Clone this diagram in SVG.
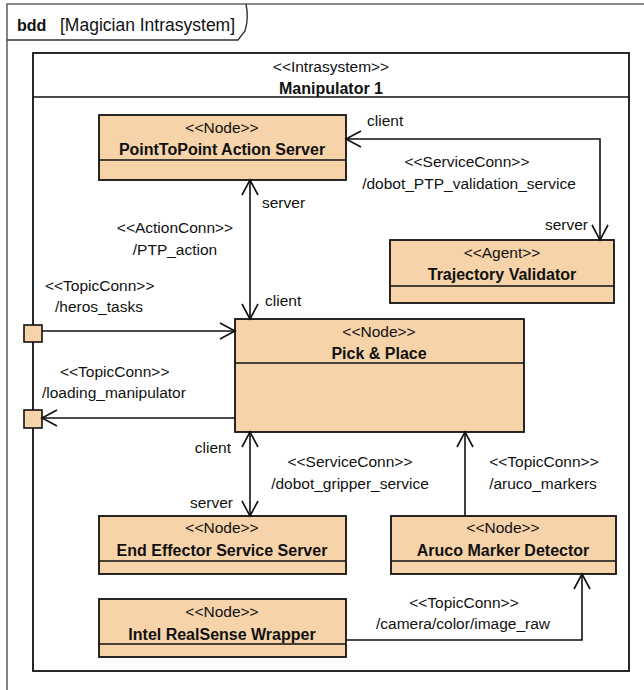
<svg xmlns="http://www.w3.org/2000/svg" width="644" height="690" viewBox="0 0 644 690">
  <style>
    text { font-family: "Liberation Sans", Arial, sans-serif; fill: #111; }
    .st { font-size: 15.5px; text-anchor: middle; }
    .ttl { font-size: 16px; font-weight: bold; text-anchor: middle; }
    .lbl { font-size: 15.5px; }
    .mid { text-anchor: middle; }
    .end { text-anchor: end; }
    .block { fill: #F6D3A9; stroke: #111; stroke-width: 1.8; }
    .sep { stroke: #111; stroke-width: 1.5; }
    .conn { fill: none; stroke: #111; stroke-width: 1.6; }
    .port { fill: #F6D3A9; stroke: #111; stroke-width: 1.6; }
  </style>
  <defs>
    <marker id="open" viewBox="0 0 18 18" markerUnits="userSpaceOnUse" markerWidth="18" markerHeight="18" refX="16" refY="9" orient="auto-start-reverse">
      <path d="M1,1 L16,9 L1,17" fill="none" stroke="#111" stroke-width="1.6"/>
    </marker>
  </defs>

  <rect width="644" height="690" fill="#ffffff"/>

  <!-- diagram frame and name tab -->
  <g id="frame">
    <path d="M7,690 V4 H644" fill="none" stroke="#666" stroke-width="1.6"/>
    <path d="M7,40 H238 L245,31 Q249,18 246,4" fill="none" stroke="#333" stroke-width="1.4"/>
    <text x="17" y="31" style="font-size:16px;font-weight:bold">bdd</text>
    <text x="60" y="31" style="font-size:17.5px">[Magician Intrasystem]</text>
  </g>

  <!-- enclosing block -->
  <g id="manipulator">
    <rect x="33" y="53" width="596" height="618" fill="none" stroke="#111" stroke-width="1.8"/>
    <line x1="33" y1="97" x2="629" y2="97" class="sep"/>
    <text x="331" y="72" class="st">&lt;&lt;Intrasystem&gt;&gt;</text>
    <text x="331" y="94" class="ttl">Manipulator 1</text>
  </g>

  <g id="ptp-server">
    <rect x="99" y="115" width="247" height="65" class="block"/>
    <line x1="99" y1="160" x2="346" y2="160" class="sep"/>
    <text x="222" y="133" class="st">&lt;&lt;Node&gt;&gt;</text>
    <text x="222" y="155" class="ttl">PointToPoint Action Server</text>
  </g>

  <g id="trajectory-validator">
    <rect x="390" y="240" width="224" height="63" class="block"/>
    <line x1="390" y1="286" x2="614" y2="286" class="sep"/>
    <text x="502" y="258" class="st">&lt;&lt;Agent&gt;&gt;</text>
    <text x="502" y="280" class="ttl">Trajectory Validator</text>
  </g>

  <g id="pick-place">
    <rect x="235" y="319" width="289" height="113" class="block"/>
    <line x1="235" y1="363" x2="524" y2="363" class="sep"/>
    <text x="379" y="337" class="st">&lt;&lt;Node&gt;&gt;</text>
    <text x="379" y="359" class="ttl">Pick &amp; Place</text>
  </g>

  <g id="end-effector">
    <rect x="99" y="516" width="247" height="58" class="block"/>
    <line x1="99" y1="561" x2="346" y2="561" class="sep"/>
    <text x="222" y="533" class="st">&lt;&lt;Node&gt;&gt;</text>
    <text x="222" y="556" class="ttl">End Effector Service Server</text>
  </g>

  <g id="aruco-detector">
    <rect x="391" y="516" width="225" height="58" class="block"/>
    <line x1="391" y1="561" x2="616" y2="561" class="sep"/>
    <text x="503" y="533" class="st">&lt;&lt;Node&gt;&gt;</text>
    <text x="503" y="556" class="ttl">Aruco Marker Detector</text>
  </g>

  <g id="realsense">
    <rect x="99" y="599" width="247" height="58" class="block"/>
    <line x1="99" y1="644" x2="346" y2="644" class="sep"/>
    <text x="222" y="617" class="st">&lt;&lt;Node&gt;&gt;</text>
    <text x="222" y="640" class="ttl">Intel RealSense Wrapper</text>
  </g>

  <g id="port-in">
    <rect x="24" y="325" width="18" height="17" class="port"/>
  </g>
  <g id="port-out">
    <rect x="24" y="410" width="18" height="18" class="port"/>
  </g>

  <!-- connectors -->
  <g id="connectors">
    <!-- validation service -->
    <polyline points="346,139 600,139 600,240" class="conn" marker-start="url(#open)" marker-end="url(#open)"/>
    <text x="367" y="126" class="lbl">client</text>
    <text x="467" y="167" class="lbl mid">&lt;&lt;ServiceConn&gt;&gt;</text>
    <text x="469" y="189" class="lbl mid">/dobot_PTP_validation_service</text>
    <text x="588" y="230" class="lbl end">server</text>

    <!-- PTP action -->
    <line x1="250" y1="180" x2="250" y2="319" class="conn" marker-start="url(#open)" marker-end="url(#open)"/>
    <text x="262" y="208" class="lbl">server</text>
    <text x="175" y="233" class="lbl mid">&lt;&lt;ActionConn&gt;&gt;</text>
    <text x="175" y="255" class="lbl mid">/PTP_action</text>
    <text x="265" y="306" class="lbl">client</text>

    <!-- heros tasks -->
    <line x1="42" y1="331" x2="235" y2="331" class="conn" marker-end="url(#open)"/>
    <text x="45" y="291" class="lbl">&lt;&lt;TopicConn&gt;&gt;</text>
    <text x="55" y="312" class="lbl">/heros_tasks</text>

    <!-- loading manipulator -->
    <line x1="235" y1="418" x2="42" y2="418" class="conn" marker-end="url(#open)"/>
    <text x="60" y="377" class="lbl">&lt;&lt;TopicConn&gt;&gt;</text>
    <text x="42" y="398" class="lbl">/loading_manipulator</text>

    <!-- gripper service -->
    <line x1="250" y1="432" x2="250" y2="516" class="conn" marker-start="url(#open)" marker-end="url(#open)"/>
    <text x="231" y="453" class="lbl end">client</text>
    <text x="233" y="508" class="lbl end">server</text>
    <text x="350" y="467" class="lbl mid">&lt;&lt;ServiceConn&gt;&gt;</text>
    <text x="350" y="489" class="lbl mid">/dobot_gripper_service</text>

    <!-- aruco markers -->
    <line x1="465" y1="516" x2="465" y2="432" class="conn" marker-end="url(#open)"/>
    <text x="544" y="467" class="lbl mid">&lt;&lt;TopicConn&gt;&gt;</text>
    <text x="543" y="489" class="lbl mid">/aruco_markers</text>

    <!-- camera image -->
    <polyline points="346,640 582,640 582,574" class="conn" marker-end="url(#open)"/>
    <text x="464" y="608" class="lbl mid">&lt;&lt;TopicConn&gt;&gt;</text>
    <text x="463" y="629" class="lbl mid">/camera/color/image_raw</text>
  </g>
</svg>
